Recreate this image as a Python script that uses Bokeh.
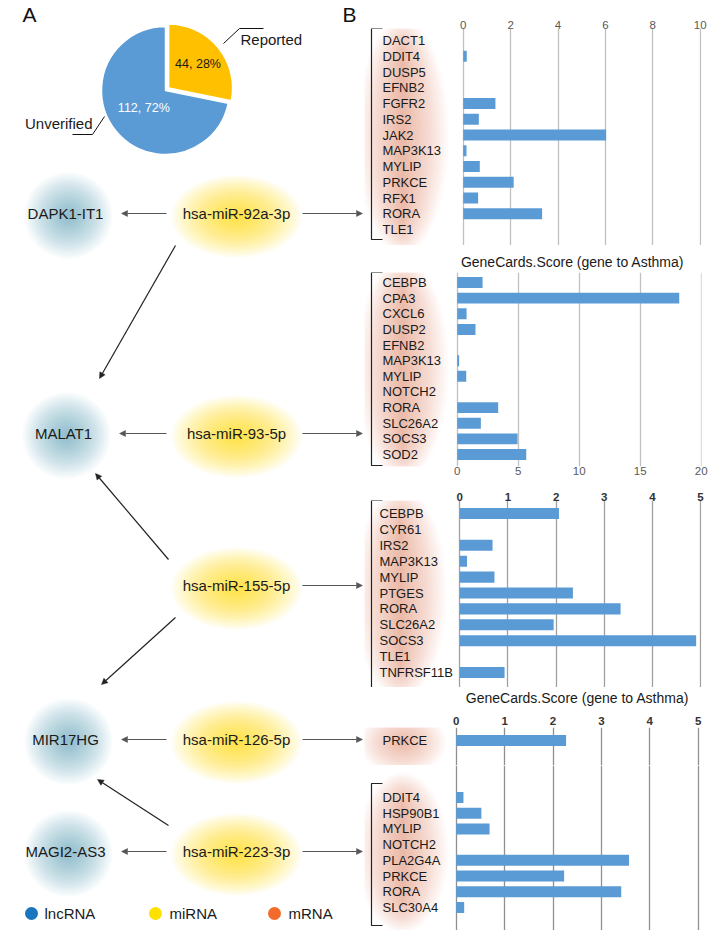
import math
from bokeh.plotting import figure
from bokeh.layouts import row, column
from bokeh.models import Range1d, FixedTicker, LinearAxis, Arrow, NormalHead, Grid
from bokeh.embed import file_html
from bokeh.resources import INLINE
from bokeh.core.properties import value

FONT = "Liberation Sans"

# ---------------- data ----------------
pie_labels = ["Reported", "Unverified"]
pie_values = [44, 112]
pie_colors = ["#FFC000", "#5B9BD5"]

lncrna_nodes = ["DAPK1-IT1", "MALAT1", "MIR17HG", "MAGI2-AS3"]
mirna_nodes = ["hsa-miR-92a-3p", "hsa-miR-93-5p", "hsa-miR-155-5p", "hsa-miR-126-5p", "hsa-miR-223-3p"]
mirna_to_lncrna = [
    ("hsa-miR-92a-3p", "DAPK1-IT1"),
    ("hsa-miR-92a-3p", "MALAT1"),
    ("hsa-miR-93-5p", "MALAT1"),
    ("hsa-miR-155-5p", "MALAT1"),
    ("hsa-miR-155-5p", "MIR17HG"),
    ("hsa-miR-126-5p", "MIR17HG"),
    ("hsa-miR-223-3p", "MIR17HG"),
    ("hsa-miR-223-3p", "MAGI2-AS3"),
]

genes_92a = ["DACT1", "DDIT4", "DUSP5", "EFNB2", "FGFR2", "IRS2", "JAK2", "MAP3K13", "MYLIP", "PRKCE", "RFX1", "RORA", "TLE1"]
score_92a = [0, 0.15, 0, 0, 1.36, 0.66, 6.03, 0.14, 0.70, 2.13, 0.63, 3.33, 0]
ticks_92a = [0, 2, 4, 6, 8, 10]

genes_93 = ["CEBPB", "CPA3", "CXCL6", "DUSP2", "EFNB2", "MAP3K13", "MYLIP", "NOTCH2", "RORA", "SLC26A2", "SOCS3", "SOD2"]
score_93 = [2.08, 18.2, 0.77, 1.5, 0, 0.16, 0.74, 0, 3.36, 1.94, 4.95, 5.66]
ticks_93 = [0, 5, 10, 15, 20]

genes_155 = ["CEBPB", "CYR61", "IRS2", "MAP3K13", "MYLIP", "PTGES", "RORA", "SLC26A2", "SOCS3", "TLE1", "TNFRSF11B"]
score_155 = [2.06, 0, 0.68, 0.15, 0.72, 2.35, 3.34, 1.95, 4.91, 0, 0.93]
ticks_155 = [0, 1, 2, 3, 4, 5]

genes_126 = ["PRKCE"]
score_126 = [2.27]

genes_223 = ["DDIT4", "HSP90B1", "MYLIP", "NOTCH2", "PLA2G4A", "PRKCE", "RORA", "SLC30A4"]
score_223 = [0.15, 0.52, 0.69, 0, 3.57, 2.23, 3.41, 0.165]
ticks_126_223 = [0, 1, 2, 3, 4, 5]

axis_title = "GeneCards.Score (gene to Asthma)"
legend_labels = ["lncRNA", "miRNA", "mRNA"]
legend_colors = ["#1a75c0", "#FFE100", "#F26B2A"]

# ---------------- layout constants (page pixel coordinates) ----------------
LEFT_W, RIGHT_W, TOTAL_H = 364, 345, 940
RX0, RX1 = 364, 701
BAR_COLOR = "#5B9BD5"
TEXT = "#1a1a1a"

node_pos = {
    "DAPK1-IT1": (65, 213), "MALAT1": (63, 433), "MIR17HG": (65, 739), "MAGI2-AS3": (65, 851),
    "hsa-miR-92a-3p": (236, 213), "hsa-miR-93-5p": (236, 433), "hsa-miR-155-5p": (236, 585),
    "hsa-miR-126-5p": (236, 739), "hsa-miR-223-3p": (236, 851),
}


def glow(p, x, y, w, h, color, peak, core=0, n=20, **kw):
    """Soft radial glow built from stacked translucent ellipses (linear falloff)."""
    a = 1 - (1 - peak) ** (1.0 / n)
    rs = [1 - k / n for k in range(0, n)]
    p.ellipse(x=[x] * n, y=[y] * n, width=[w * r for r in rs], height=[core + h * r for r in rs],
              fill_color=color, fill_alpha=a, line_color=None, **kw)


def arrow(p, x0, y0, x1, y1, color, lw=1.2):
    p.add_layout(Arrow(end=NormalHead(size=6, fill_color=color, line_color=color, line_width=0.5),
                       x_start=x0, y_start=y0, x_end=x1, y_end=y1, line_color=color, line_width=lw))


# ---------------- left figure: pie + network ----------------
L = figure(width=LEFT_W, height=TOTAL_H, x_range=Range1d(0, LEFT_W), y_range=Range1d(TOTAL_H, 0),
           x_axis_location=None, y_axis_location=None, output_backend="svg", toolbar_location=None,
           min_border=0)
L.center = []
L.outline_line_color = None

# glows
for n in lncrna_nodes:
    x, y = node_pos[n]
    glow(L, x + 3, y + 2, 88, 86, "#4682B4", 0.5)
for n in mirna_nodes:
    x, y = node_pos[n]
    glow(L, x, y + 3, 130, 82, "#FFD700", 0.68)

# panel letters
L.text(x=[29, 349], y=[14, 14], text=["A", "B"], text_font=value(FONT), text_font_size="21px",
       text_align="center", text_baseline="middle", text_color="#111111")

# pie
cx, cy, R = 165, 90, 64
total = sum(pie_values)
ang = 90.0
xs, ys, sa, ea, lx, ly, lt = [], [], [], [], [], [], []
for i, v in enumerate(pie_values):
    sweep = 360.0 * v / total
    a0, a1 = ang - sweep, ang
    mid = math.radians((a0 + a1) / 2)
    off = 4 if i == 0 else 0
    ox, oy = cx + off * math.cos(mid), cy - off * math.sin(mid)
    xs.append(ox); ys.append(oy)
    sa.append(math.radians(a0)); ea.append(math.radians(a1))
    d = 38 if i == 0 else 28
    lx.append(ox + d * math.cos(mid)); ly.append(oy - d * math.sin(mid))
    lt.append(f"{v}, {round(100 * v / total)}%")
    ang = a0
L.wedge(x=xs, y=ys, radius=R, start_angle=sa, end_angle=ea, fill_color=pie_colors,
        line_color="white", line_width=1.5)
L.text(x=lx, y=ly, text=lt, text_font=value(FONT), text_font_size="12.5px", text_align="center",
       text_baseline="middle", text_color=["#1a1a1a", "#ffffff"])
# pie leader lines & labels
L.line(x=[223, 239, 263], y=[43, 28, 28], line_color="#111111", line_width=1)
L.line(x=[72, 92, 104], y=[134, 134, 116], line_color="#111111", line_width=1)
L.text(x=[240, 92], y=[39, 123], text=pie_labels, text_font=value(FONT), text_font_size="15px",
       text_align=["left", "right"], text_baseline="middle", text_color=TEXT)

# edges miRNA -> lncRNA
for src, dst in mirna_to_lncrna:
    mx, my = node_pos[src]
    tx, ty = node_pos[dst]
    if abs(my - ty) < 1:
        arrow(L, mx - 70, my, tx + 56, ty, "#555555")
    elif ty > my:
        arrow(L, mx - 61, my + 32, tx + 36, ty - 55, "#222222")
    else:
        arrow(L, mx - 68, my - 26, tx + 32, ty + 40, "#222222")
# edges miRNA -> mRNA panels
for m in mirna_nodes:
    mx, my = node_pos[m]
    arrow(L, mx + 66, my, 362, my, "#555555")

# node labels
L.text(x=[node_pos[n][0] for n in lncrna_nodes + mirna_nodes],
       y=[node_pos[n][1] for n in lncrna_nodes + mirna_nodes],
       text=lncrna_nodes + mirna_nodes, text_font=value(FONT), text_font_size="15px",
       text_align="center", text_baseline="middle", text_color=TEXT)

# legend
L.scatter(x=[31, 155, 274], y=[913] * 3, size=13, marker="circle", fill_color=legend_colors, line_color=None)
L.text(x=[44, 169, 288], y=[913] * 3, text=legend_labels, text_font=value(FONT), text_font_size="15px",
       text_align="left", text_baseline="middle", text_color=TEXT)


# ---------------- right bar panels ----------------
def panel(genes, scores, xmax, ticks, px0, px1, fig_top, fig_bot, ftop, fbot, row0, row_h,
          bracket=None, glow_box=None, axis_loc=None, standoff=0, bold=False, tick_color="#595959",
          grid_color="#c0c0c0", label_x=382):
    s = (px1 - px0) / xmax
    xr = Range1d(-(px0 - RX0) / s, xmax + (RX1 - px1) / s)
    yr = Range1d((fbot - row0) / row_h, (ftop - row0) / row_h)
    p = figure(width=RIGHT_W, height=fig_bot - fig_top, x_range=xr, y_range=yr,
               x_axis_location=None, y_axis_location=None, output_backend="svg", toolbar_location=None,
               min_border_left=0, min_border_right=RIGHT_W - (RX1 - RX0),
               min_border_top=ftop - fig_top, min_border_bottom=fig_bot - fbot)
    p.center = []
    p.outline_line_color = None
    p.title.visible = False
    p.extra_x_ranges = {"px": Range1d(RX0, RX1)}
    p.extra_y_ranges = {"px": Range1d(fbot, ftop)}
    p.add_layout(Grid(dimension=0, ticker=FixedTicker(ticks=ticks), grid_line_color=grid_color,
                      grid_line_width=1.3), "center")
    if glow_box:
        gx, gy, gw, gh, gcore = glow_box
        glow(p, gx, gy, gw, gh, "#EB6450", 0.42, core=gcore, x_range_name="px", y_range_name="px")
    if axis_loc:
        ax = LinearAxis(ticker=FixedTicker(ticks=ticks), axis_line_color=None, major_tick_line_color=None,
                        minor_tick_line_color=None, major_tick_in=0, major_tick_out=0,
                        major_label_standoff=standoff, major_label_text_font=FONT,
                        major_label_text_font_size="11.5px", major_label_text_color=tick_color,
                        major_label_text_font_style="bold" if bold else "normal")
        p.add_layout(ax, axis_loc)
    idx = list(range(len(genes)))
    p.hbar(y=idx, left=0, right=scores, height=0.7, fill_color=BAR_COLOR, line_color=None)
    p.text(x=[label_x] * len(genes), y=idx, text=genes, x_range_name="px", text_font=value(FONT),
           text_font_size="13px", text_align="left", text_baseline="middle", text_color=TEXT)
    if bracket:
        bt, bb = bracket
        p.line(x=[382, 371, 371, 382], y=[bt, bt, bb, bb], x_range_name="px", y_range_name="px",
               line_color="#222222", line_width=1.2)
    return p


def title_strip(fig_top, fig_bot, cx, cy):
    t = figure(width=RIGHT_W, height=fig_bot - fig_top, x_range=Range1d(RX0, RX0 + RIGHT_W),
               y_range=Range1d(fig_bot, fig_top), x_axis_location=None, y_axis_location=None,
               output_backend="svg", toolbar_location=None, min_border=0)
    t.center = []
    t.outline_line_color = None
    t.title.visible = False
    t.text(x=[cx], y=[cy], text=[axis_title], text_font=value(FONT), text_font_size="14px",
           text_align="center", text_baseline="middle", text_color=TEXT)
    return t


P1 = panel(genes_92a, score_92a, 10, ticks_92a, 462.7, 699.7, 0, 245, 28, 245, 40, 15.75,
           bracket=(28, 239), glow_box=(402, 136, 92, 70, 165), axis_loc="above", standoff=0)
T1 = title_strip(245, 270, 577, 261)
P2 = panel(genes_93, score_93, 20, ticks_93, 456.7, 700.7, 270, 480, 272, 466, 282, 15.64,
           bracket=(272, 465), glow_box=(402, 368, 92, 70, 150), axis_loc="below", standoff=0)
P3 = panel(genes_155, score_155, 5, ticks_155, 459.3, 700.0, 480, 687, 500, 687, 513, 15.9,
           bracket=(500, 687), glow_box=(400, 593, 92, 70, 140), axis_loc="above", standoff=0, bold=True,
           tick_color="#333333", grid_color="#a0a0a0", label_x=379)
T2 = title_strip(687, 706, 582, 697)
P4 = panel(genes_126, score_126, 5, ticks_126_223, 455.7, 697.7, 706, 765, 727, 765, 740, 15.7,
           glow_box=(402, 742, 88, 66, 0), axis_loc="above", standoff=3, bold=True, tick_color="#333333",
           grid_color="#909090")
P5 = panel(genes_223, score_223, 5, ticks_126_223, 455.7, 697.7, 765, 930, 765, 930, 797, 15.71,
           bracket=(783, 925), glow_box=(402, 852, 92, 70, 90), grid_color="#909090")

layout = row(L, column(P1, T1, P2, P3, T2, P4, P5, spacing=0), spacing=0)

open("out.html", "w").write(file_html(layout, INLINE))
